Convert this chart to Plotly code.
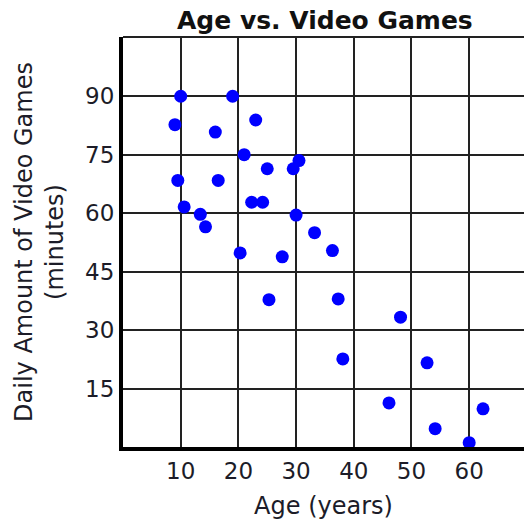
import plotly.graph_objects as go

# Data
ages = [10, 19, 9, 16, 23, 21, 25, 29.5, 30.5, 9.5, 16.5, 22.3, 24.2, 10.6, 13.4,
        14.3, 30, 33.2, 36.3, 20.3, 27.6, 25.3, 37.3, 48.1, 38.1, 52.7, 46.1, 62.4,
        54.1, 60]
minutes = [90, 90, 82.7, 80.8, 83.9, 75, 71.4, 71.4, 73.5, 68.4, 68.4, 62.8, 62.8,
           61.6, 59.7, 56.5, 59.5, 55, 50.4, 49.8, 48.8, 37.8, 38, 33.3, 22.6, 21.6,
           11.3, 9.8, 4.7, 1.1]
x_ticks = [10, 20, 30, 40, 50, 60]
y_ticks = [15, 30, 45, 60, 75, 90]

FONT = "DejaVu Sans"
TXT = "#1c1c28"
GRID = "#222222"

fig = go.Figure()
fig.add_trace(go.Scatter(
    x=ages, y=minutes, mode="markers",
    marker=dict(color="#0000ff", size=13, line=dict(width=0)),
    hoverinfo="skip", showlegend=False,
))

fig.update_layout(
    width=524, height=520,
    margin=dict(l=123, r=0, t=37, b=73),
    paper_bgcolor="white", plot_bgcolor="white",
    font=dict(family=FONT, color=TXT, size=23),
    title=dict(text="<b>Age vs. Video Games</b>", x=0.62, xanchor="center",
               y=0.962, yanchor="middle", font=dict(family=FONT, size=25, color="#111")),
    xaxis=dict(
        range=[0, 69.5], tickvals=x_ticks, ticktext=[str(v) for v in x_ticks],
        showgrid=True, gridcolor=GRID, gridwidth=2,
        showline=True, linecolor="#000", linewidth=4,
        ticks="", zeroline=False, automargin=False,
        tickfont=dict(size=23),
        title=dict(text="Age (years)", font=dict(size=24), standoff=18),
    ),
    yaxis=dict(
        range=[0, 105.2], tickvals=y_ticks, ticktext=[str(v) for v in y_ticks],
        showgrid=True, gridcolor=GRID, gridwidth=2,
        showline=True, linecolor="#000", linewidth=4,
        ticks="", zeroline=False, automargin=False,
        tickfont=dict(size=23),
        title=dict(text="Daily Amount of Video Games<br>(minutes)", font=dict(size=24), standoff=16),
    ),
    shapes=[dict(type="line", xref="paper", yref="paper", x0=0, x1=1, y0=1, y1=1,
                 line=dict(color=GRID, width=2))],
)

fig.write_html("out.html", config={"displayModeBar": False},
               post_script="document.body.style.margin='0';document.body.style.overflow='hidden';")
